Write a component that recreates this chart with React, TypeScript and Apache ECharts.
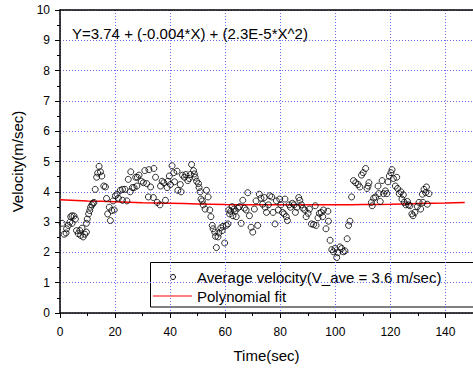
import React, { useEffect, useRef } from "react";
import * as echarts from "echarts";

const times = [
  0.8, 1.5, 2.2, 2.4, 3.0, 3.6, 3.9, 4.4, 4.4, 5.1, 5.6, 6.0, 6.6, 7.2, 7.5, 8.0, 8.4, 9.0, 9.6, 9.6,
  9.9, 10.4, 10.8, 11.1, 11.6, 12.0, 12.3, 12.8, 13.3, 13.7, 14.2, 14.7, 15.2, 15.9, 16.5, 16.9, 17.3, 17.9, 18.3, 18.8,
  19.3, 19.7, 20.1, 20.7, 21.2, 21.9, 22.7, 22.7, 23.6, 24.3, 24.8, 25.5, 25.7, 26.3, 26.9, 27.5, 27.9, 28.1, 28.7, 29.5,
  30.3, 30.8, 31.5, 32.1, 32.3, 32.9, 33.9, 34.1, 34.7, 35.3, 36.3, 36.5, 37.1, 37.7, 38.3, 38.9, 39.2, 39.7, 40.1, 40.7,
  41.3, 41.6, 42.5, 42.8, 43.7, 44.0, 44.5, 45.2, 45.7, 46.4, 46.9, 47.3, 47.8, 48.5, 48.8, 49.1, 49.6, 50.3, 50.5, 50.9,
  51.2, 51.7, 52.0, 52.7, 53.2, 53.8, 54.4, 54.8, 55.3, 55.6, 56.2, 56.5, 56.8, 57.4, 57.7, 58.4, 58.9, 59.2, 59.8, 60.4,
  61.0, 61.3, 61.6, 62.0, 62.5, 62.8, 63.2, 63.6, 64.0, 64.6, 65.2, 65.8, 66.4, 67.0, 67.6, 68.2, 68.8, 69.4, 70.0, 70.6,
  71.2, 71.8, 72.4, 73.0, 73.6, 74.2, 74.5, 75.0, 75.7, 76.2, 76.9, 77.4, 78.1, 78.6, 79.3, 79.8, 80.2, 80.8, 81.4, 81.7,
  82.2, 82.6, 83.2, 83.7, 84.4, 85.0, 85.5, 86.1, 86.7, 87.1, 87.7, 88.2, 88.9, 89.4, 90.1, 90.6, 91.3, 92.1, 92.7, 93.0,
  93.7, 94.2, 94.9, 95.4, 95.7, 96.6, 97.3, 97.5, 98.1, 98.7, 99.3, 99.9, 100.5, 100.9, 101.7, 102.3, 102.9, 103.5, 104.3, 104.8,
  105.3, 105.9, 106.6, 107.4, 108.3, 108.9, 109.5, 110.1, 111.0, 111.5, 111.9, 112.2, 113.1, 113.4, 113.9, 114.6, 115.5, 115.8, 116.3, 117.0,
  117.5, 118.2, 118.7, 119.1, 119.6, 120.2, 120.6, 121.1, 121.8, 122.3, 122.6, 123.2, 123.8, 124.2, 124.7, 125.0, 125.6, 126.2, 126.6, 127.1,
  127.8, 128.2, 128.9, 129.8, 130.4, 131.0, 131.6, 131.8, 132.2, 132.8, 133.1, 133.4, 134.0,
];

const velocities = [
  2.96, 2.6, 2.64, 2.78, 2.89, 3.0, 3.18, 3.21, 2.96, 3.2, 3.1, 2.72, 2.62, 2.72, 2.56, 2.8, 2.51, 2.6, 2.67, 2.96,
  3.1, 3.27, 3.38, 3.49, 3.57, 3.62, 3.65, 4.08, 4.48, 4.62, 4.84, 4.66, 4.52, 4.19, 4.16, 3.78, 3.27, 3.49, 3.05, 3.38,
  3.7, 3.4, 3.87, 3.92, 3.79, 4.05, 4.08, 3.72, 4.08, 3.7, 4.41, 4.0, 4.66, 4.14, 4.14, 4.48, 4.19, 4.48, 4.55, 4.35,
  4.3, 4.7, 4.27, 3.83, 4.73, 4.16, 3.81, 4.77, 4.48, 3.65, 3.57, 4.19, 4.35, 4.3, 3.72, 4.14, 4.35, 4.52, 4.24, 4.86,
  4.63, 4.33, 4.68, 4.05, 4.24, 4.0, 4.55, 4.48, 4.57, 4.37, 4.44, 4.57, 4.9, 4.7, 4.59, 4.48, 4.35, 4.27, 4.14, 4.0,
  3.76, 3.7, 3.57, 3.43, 4.05, 3.83, 3.4, 3.18, 2.89, 2.78, 2.67, 2.53, 2.16, 2.51, 2.64, 2.81, 2.72, 2.86, 2.31, 2.89,
  2.94, 3.4, 3.27, 3.36, 3.51, 3.21, 3.43, 3.36, 3.18, 3.46, 3.51, 2.96, 3.72, 3.46, 3.4, 3.97, 3.21, 2.83, 2.67, 3.43,
  3.7, 2.89, 3.92, 3.79, 3.59, 3.81, 3.49, 3.32, 3.57, 3.87, 3.83, 3.32, 2.94, 3.7, 3.4, 3.76, 3.57, 3.32, 3.27, 3.76,
  3.18, 3.05, 3.57, 3.49, 3.62, 3.57, 3.32, 3.49, 3.81, 3.72, 3.57, 3.46, 3.4, 3.18, 3.29, 3.43, 2.94, 2.92, 3.54, 2.89,
  3.14, 3.29, 3.32, 3.18, 3.4, 2.78, 3.36, 3.03, 2.4, 2.09, 2.02, 2.13, 1.83, 1.99, 2.18, 2.13, 2.02, 2.05, 2.45, 2.89,
  3.03, 3.83, 4.37, 4.3, 4.24, 4.16, 4.55, 4.63, 4.77, 4.11, 4.19, 4.3, 3.65, 3.54, 3.79, 3.83, 4.19, 3.94, 3.68, 4.37,
  3.94, 4.03, 3.94, 4.33, 4.52, 4.63, 4.73, 4.44, 4.19, 4.48, 4.11, 3.94, 4.0, 3.76, 3.9, 3.65, 3.57, 3.68, 3.57, 3.54,
  3.27, 3.21, 3.32, 3.51, 3.65, 3.43, 3.92, 3.65, 4.08, 3.97, 4.16, 3.59, 3.94,
];

const fitTimes = [0, 10, 20, 30, 40, 50, 60, 70, 80, 90, 100, 110, 120, 130, 140, 147];
const fitValues = [3.74, 3.7, 3.67, 3.64, 3.62, 3.6, 3.58, 3.57, 3.57, 3.57, 3.57, 3.58, 3.59, 3.61, 3.63, 3.65];

const seriesNames = ["Average velocity(V_ave = 3.6 m/sec)", "Polynomial fit"];
const equationText = "Y=3.74 + (-0.004*X) + (2.3E-5*X^2)";

const FONT = "'Liberation Sans', Arial, sans-serif";
const gridLine = { color: "#6a6af2", width: 1, type: [1, 2] as number[] };

export default function App() {
  const ref = useRef<HTMLDivElement>(null);
  useEffect(() => {
    const chart = echarts.init(ref.current!, null, { renderer: "svg" });
    chart.setOption({
      animation: false,
      backgroundColor: "#ffffff",
      textStyle: { fontFamily: FONT },
      grid: { left: 60, top: 10, width: 418, height: 307 },
      xAxis: [
        {
          type: "value",
          min: 0,
          max: 150,
          interval: 20,
          position: "bottom",
          name: "Time(sec)",
          nameLocation: "middle",
          nameGap: 35,
          nameTextStyle: { fontSize: 15, color: "#000", fontFamily: FONT },
          axisLine: { lineStyle: { color: "#000", width: 1.5 } },
          axisTick: { show: true, inside: false, length: 5, lineStyle: { color: "#000", width: 1 } },
          minorTick: { show: true, splitNumber: 2, length: 3, lineStyle: { color: "#000", width: 1 } },
          axisLabel: { fontSize: 12, color: "#000", margin: 13, showMaxLabel: false, fontFamily: FONT },
          splitLine: { show: true, lineStyle: gridLine },
        },
        {
          type: "value",
          min: 0,
          max: 150,
          position: "top",
          axisLine: { show: true, lineStyle: { color: "#000", width: 1.5 } },
          axisTick: { show: false },
          axisLabel: { show: false },
          splitLine: { show: false },
        },
      ],
      yAxis: {
        type: "value",
        min: 0,
        max: 10,
        interval: 1,
        name: "Velocity(m/sec)",
        nameLocation: "middle",
        nameGap: 35,
        nameTextStyle: { fontSize: 15, color: "#000", fontFamily: FONT },
        axisLine: { show: true, lineStyle: { color: "#000", width: 1.5 } },
        axisTick: { show: true, inside: false, length: 5, lineStyle: { color: "#000", width: 1 } },
        minorTick: { show: true, splitNumber: 2, length: 3, lineStyle: { color: "#000", width: 1 } },
        axisLabel: { fontSize: 12, color: "#000", margin: 10, fontFamily: FONT },
        splitLine: { show: true, lineStyle: gridLine },
      },
      series: [
        {
          name: seriesNames[1],
          type: "line",
          data: fitTimes.map((t, i) => [t, fitValues[i]]),
          smooth: true,
          showSymbol: false,
          lineStyle: { color: "#ff0000", width: 1.5 },
          z: 2,
        },
        {
          name: seriesNames[0],
          type: "scatter",
          data: times.map((t, i) => [t, velocities[i]]),
          symbol: "circle",
          symbolSize: 6,
          itemStyle: { color: "rgba(255,255,255,0)", borderColor: "#000", borderWidth: 1 },
          z: 3,
        },
      ],
      graphic: [
        {
          type: "text",
          left: 72,
          top: 26,
          style: { text: equationText, font: `15px ${FONT}`, fill: "#000" },
          z: 10,
        },
        {
          type: "group",
          z: 20,
          children: [
            {
              type: "rect",
              shape: { x: 150.5, y: 262.5, width: 340, height: 44.5 },
              style: { fill: "#fff", stroke: "#000", lineWidth: 1 },
            },
            {
              type: "circle",
              shape: { cx: 173, cy: 277, r: 2.5 },
              style: { fill: "none", stroke: "#000", lineWidth: 1 },
            },
            {
              type: "text",
              x: 197,
              y: 277,
              style: { text: seriesNames[0], font: `15px ${FONT}`, fill: "#000", verticalAlign: "middle" },
            },
            {
              type: "line",
              shape: { x1: 153, y1: 296, x2: 192, y2: 296 },
              style: { stroke: "#ff5555", lineWidth: 1.5 },
            },
            {
              type: "text",
              x: 197,
              y: 296,
              style: { text: seriesNames[1], font: `15px ${FONT}`, fill: "#000", verticalAlign: "middle" },
            },
          ],
        },
      ],
    });
    return () => chart.dispose();
  }, []);
  return (
    <div
      ref={ref}
      style={{ position: "absolute", left: 0, top: 0, width: 473, height: 368, background: "#fff" }}
    />
  );
}
